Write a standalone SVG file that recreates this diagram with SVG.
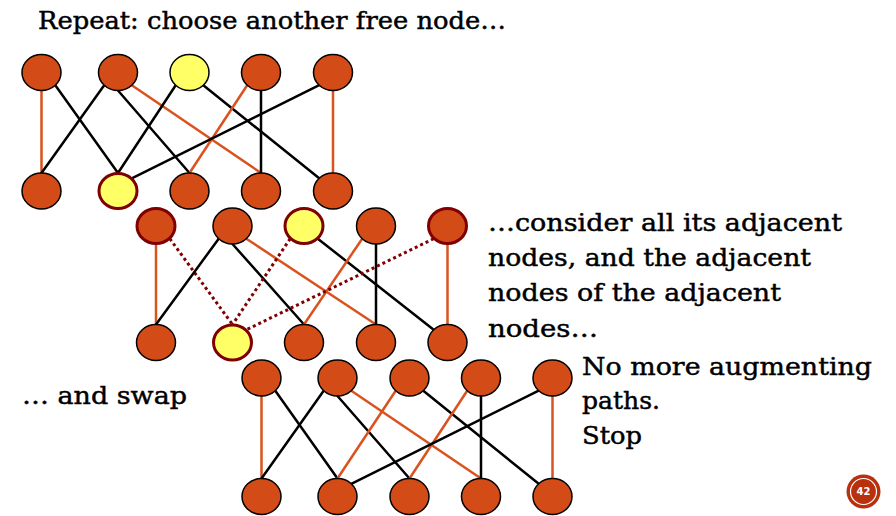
<svg xmlns="http://www.w3.org/2000/svg" width="896" height="516" viewBox="0 0 896 516">
  <style>
    .bg { fill: #ffffff; }
    .node { fill: #D34B17; stroke: #000000; stroke-width: 1.5; }
    .free { fill: #FFFF66; }
    .mark { stroke: #7F0000; stroke-width: 3; }
    .e { stroke: #000000; stroke-width: 2.5; fill: none; stroke-linecap: round; }
    .m { stroke: #D9531E; stroke-width: 2.5; fill: none; }
    .d { stroke: #7F0000; stroke-width: 3; fill: none; stroke-dasharray: 3 3; }
    .t { font-family: "DejaVu Serif", "Liberation Serif", serif; font-size: 24px; fill: #000000; stroke: #000000; stroke-width: 0.45; }
    .badge { fill: #B9300C; }
    .ring { fill: none; stroke: #ffffff; stroke-width: 1.2; }
    .num { font-family: "DejaVu Sans", "Liberation Sans", sans-serif; font-size: 10px; font-weight: bold; fill: #ffffff; }
  </style>

  <rect class="bg" x="0" y="0" width="896" height="516"/>

  <!-- Labels -->
  <text class="t" x="38" y="28.5" textLength="468" lengthAdjust="spacingAndGlyphs">Repeat: choose another free node…</text>
  <text class="t" x="488" y="230.5" textLength="354" lengthAdjust="spacingAndGlyphs">…consider all its adjacent</text>
  <text class="t" x="488" y="265.5" textLength="323" lengthAdjust="spacingAndGlyphs">nodes, and the adjacent</text>
  <text class="t" x="488" y="301" textLength="293" lengthAdjust="spacingAndGlyphs">nodes of the adjacent</text>
  <text class="t" x="488" y="337" textLength="110" lengthAdjust="spacingAndGlyphs">nodes…</text>
  <text class="t" x="22" y="403.5" textLength="165" lengthAdjust="spacingAndGlyphs">… and swap</text>
  <text class="t" x="582" y="375" textLength="290" lengthAdjust="spacingAndGlyphs">No more augmenting</text>
  <text class="t" x="582" y="409" textLength="78" lengthAdjust="spacingAndGlyphs">paths.</text>
  <text class="t" x="582" y="443.5" textLength="60" lengthAdjust="spacingAndGlyphs">Stop</text>

  <!-- Graph 1: current matching -->
  <g id="connectors-1">
    <line class="m" x1="41.5" y1="90.5" x2="41.5" y2="173"/>
    <line class="e" x1="55.3" y1="85.2" x2="118" y2="173"/>
    <line class="e" x1="104.2" y1="85.2" x2="41.5" y2="173"/>
    <line class="e" x1="118" y1="90.5" x2="189.5" y2="173"/>
    <line class="m" x1="131.8" y1="85.2" x2="261" y2="173"/>
    <line class="e" x1="175.7" y1="85.2" x2="118" y2="173"/>
    <line class="e" x1="203.3" y1="85.2" x2="319.2" y2="178.3"/>
    <line class="m" x1="247.2" y1="85.2" x2="189.5" y2="173"/>
    <line class="e" x1="261" y1="90.5" x2="261" y2="173"/>
    <line class="e" x1="319.2" y1="85.2" x2="131.8" y2="178.3"/>
    <line class="m" x1="333" y1="90.5" x2="333" y2="173"/>
  </g>
  <g id="g1-top-0"><ellipse class="node" cx="41.5" cy="72.5" rx="19.5" ry="18"/></g>
  <g id="g1-top-1"><ellipse class="node" cx="118" cy="72.5" rx="19.5" ry="18"/></g>
  <g id="g1-top-2"><ellipse class="node free" cx="189.5" cy="72.5" rx="19.5" ry="18"/></g>
  <g id="g1-top-3"><ellipse class="node" cx="261" cy="72.5" rx="19.5" ry="18"/></g>
  <g id="g1-top-4"><ellipse class="node" cx="333" cy="72.5" rx="19.5" ry="18"/></g>
  <g id="g1-bot-0"><ellipse class="node" cx="41.5" cy="191" rx="19.5" ry="18"/></g>
  <g id="g1-bot-1"><ellipse class="node free mark" cx="118" cy="191" rx="19" ry="17.5"/></g>
  <g id="g1-bot-2"><ellipse class="node" cx="189.5" cy="191" rx="19.5" ry="18"/></g>
  <g id="g1-bot-3"><ellipse class="node" cx="261" cy="191" rx="19.5" ry="18"/></g>
  <g id="g1-bot-4"><ellipse class="node" cx="333" cy="191" rx="19.5" ry="18"/></g>

  <!-- Graph 2: alternating path search -->
  <g id="connectors-2">
    <line class="m" x1="156" y1="244" x2="156" y2="324.5"/>
    <line class="d" x1="169.8" y1="238.7" x2="232.5" y2="324.5"/>
    <line class="e" x1="218.7" y1="238.7" x2="156" y2="324.5"/>
    <line class="e" x1="232.5" y1="244" x2="304" y2="324.5"/>
    <line class="m" x1="246.3" y1="238.7" x2="376" y2="324.5"/>
    <line class="d" x1="290.2" y1="238.7" x2="232.5" y2="324.5"/>
    <line class="e" x1="317.8" y1="238.7" x2="433.7" y2="329.8"/>
    <line class="m" x1="362.2" y1="238.7" x2="304" y2="324.5"/>
    <line class="e" x1="376" y1="244" x2="376" y2="324.5"/>
    <line class="d" x1="433.7" y1="238.7" x2="246.3" y2="329.8"/>
    <line class="m" x1="447.5" y1="244" x2="447.5" y2="324.5"/>
  </g>
  <g id="g2-top-0"><ellipse class="node mark" cx="156" cy="226" rx="19" ry="17.5"/></g>
  <g id="g2-top-1"><ellipse class="node" cx="232.5" cy="226" rx="19.5" ry="18"/></g>
  <g id="g2-top-2"><ellipse class="node free mark" cx="304" cy="226" rx="19" ry="17.5"/></g>
  <g id="g2-top-3"><ellipse class="node" cx="376" cy="226" rx="19.5" ry="18"/></g>
  <g id="g2-top-4"><ellipse class="node mark" cx="447.5" cy="226" rx="19" ry="17.5"/></g>
  <g id="g2-bot-0"><ellipse class="node" cx="156" cy="342.5" rx="19.5" ry="18"/></g>
  <g id="g2-bot-1"><ellipse class="node free mark" cx="232.5" cy="342.5" rx="19" ry="17.5"/></g>
  <g id="g2-bot-2"><ellipse class="node" cx="304" cy="342.5" rx="19.5" ry="18"/></g>
  <g id="g2-bot-3"><ellipse class="node" cx="376" cy="342.5" rx="19.5" ry="18"/></g>
  <g id="g2-bot-4"><ellipse class="node" cx="447.5" cy="342.5" rx="19.5" ry="18"/></g>

  <!-- Graph 3: final matching -->
  <g id="connectors-3">
    <line class="m" x1="261.5" y1="396" x2="261.5" y2="478.5"/>
    <line class="e" x1="275.3" y1="390.7" x2="337.5" y2="478.5"/>
    <line class="e" x1="323.7" y1="390.7" x2="261.5" y2="478.5"/>
    <line class="e" x1="337.5" y1="396" x2="409.5" y2="478.5"/>
    <line class="m" x1="351.3" y1="390.7" x2="481" y2="478.5"/>
    <line class="m" x1="395.7" y1="390.7" x2="337.5" y2="478.5"/>
    <line class="e" x1="423.3" y1="390.7" x2="538.7" y2="483.8"/>
    <line class="m" x1="467.2" y1="390.7" x2="409.5" y2="478.5"/>
    <line class="e" x1="481" y1="396" x2="481" y2="478.5"/>
    <line class="e" x1="538.7" y1="390.7" x2="351.3" y2="483.8"/>
    <line class="m" x1="552.5" y1="396" x2="552.5" y2="478.5"/>
  </g>
  <g id="g3-top-0"><ellipse class="node" cx="261.5" cy="378" rx="19.5" ry="18"/></g>
  <g id="g3-top-1"><ellipse class="node" cx="337.5" cy="378" rx="19.5" ry="18"/></g>
  <g id="g3-top-2"><ellipse class="node" cx="409.5" cy="378" rx="19.5" ry="18"/></g>
  <g id="g3-top-3"><ellipse class="node" cx="481" cy="378" rx="19.5" ry="18"/></g>
  <g id="g3-top-4"><ellipse class="node" cx="552.5" cy="378" rx="19.5" ry="18"/></g>
  <g id="g3-bot-0"><ellipse class="node" cx="261.5" cy="496.5" rx="19.5" ry="18"/></g>
  <g id="g3-bot-1"><ellipse class="node" cx="337.5" cy="496.5" rx="19.5" ry="18"/></g>
  <g id="g3-bot-2"><ellipse class="node" cx="409.5" cy="496.5" rx="19.5" ry="18"/></g>
  <g id="g3-bot-3"><ellipse class="node" cx="481" cy="496.5" rx="19.5" ry="18"/></g>
  <g id="g3-bot-4"><ellipse class="node" cx="552.5" cy="496.5" rx="19.5" ry="18"/></g>

  <!-- Page number badge -->
  <g id="page-number">
    <circle class="badge" cx="863.5" cy="491.5" r="17"/>
    <circle class="ring" cx="863.5" cy="491.5" r="13"/>
    <text class="num" x="863.5" y="495" text-anchor="middle">42</text>
  </g>
</svg>
